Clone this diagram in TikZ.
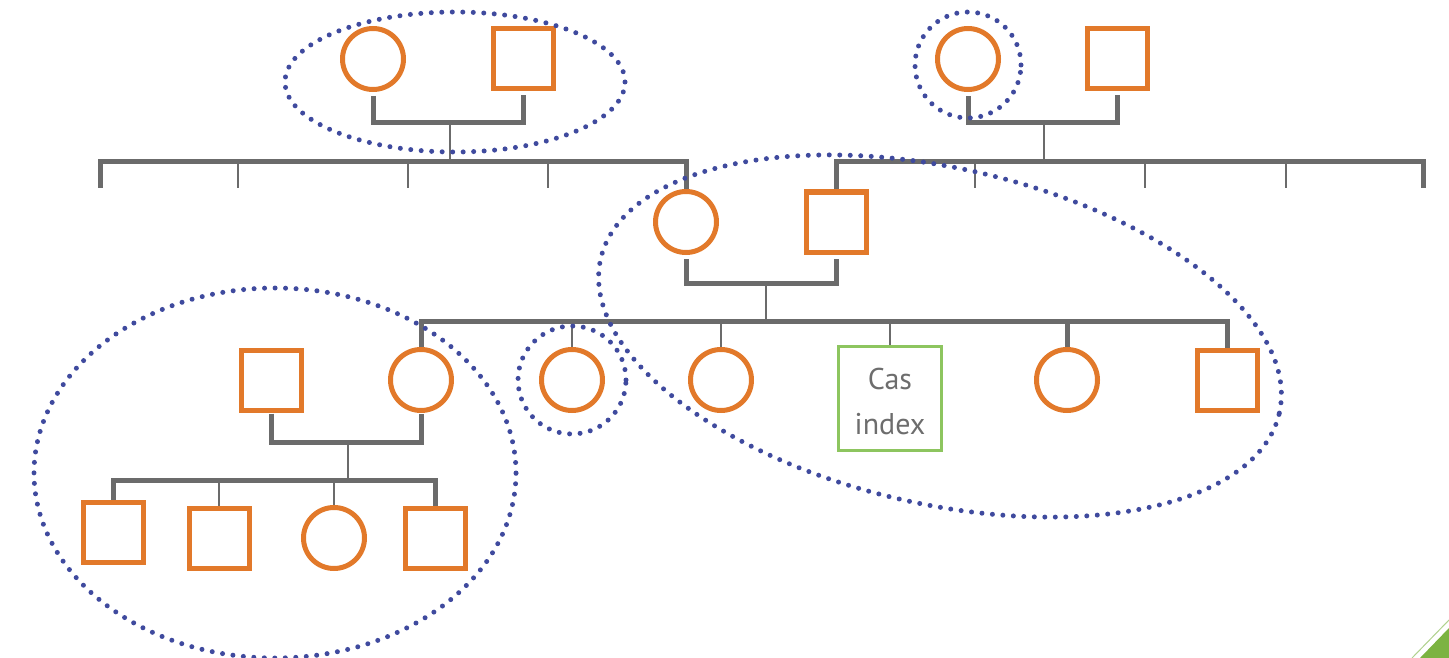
\documentclass[tikz,border=0pt]{standalone}
\usepackage{fontspec}
\setmainfont{PT Sans}
\definecolor{ped}{HTML}{E2792A}
\definecolor{kinline}{HTML}{6B6B6B}
\definecolor{grp}{HTML}{3F4A9E}
\definecolor{idx}{HTML}{8DC55F}
\definecolor{corner}{HTML}{7CB342}
\definecolor{txt}{HTML}{6D6D6D}
\begin{document}
\begin{tikzpicture}[x=1pt,y=-1pt,
  female/.style={circle,draw=ped,line width=5pt,minimum size=61pt,inner sep=0pt},
  male/.style={rectangle,draw=ped,line width=5pt,minimum size=60pt,inner sep=0pt},
  proband/.style={rectangle,draw=idx,line width=3pt,minimum width=103pt,minimum height=104pt,
    inner sep=0pt,align=center,text=txt,font=\fontsize{30}{45}\selectfont},
  kin/.style={draw=kinline,line width=5pt,line join=miter},
  sib/.style={draw=kinline,line width=2.5pt},
  grp/.style={draw=grp,line width=5pt,dash pattern=on 0pt off 10.5pt,line cap=round}]

\useasboundingbox (0,0) rectangle (1449,658);

% generation I
\node[female] (g1f) at (373,59) {};
\node[male]   (g1m) at (523,59) {};
\node[female] (g2f) at (968,59) {};
\node[male]   (g2m) at (1117,59) {};
% generation II
\node[female] (mo) at (686,222) {};
\node[male]   (fa) at (836,222) {};
% generation III
\node[male]    (s1) at (271,380) {};
\node[female]  (d1) at (421,380) {};
\node[female]  (d2) at (572,380) {};
\node[female]  (d3) at (721,380) {};
\node[proband] (ix) at (890,398.5) {\rule{0pt}{27pt}Cas\\index};
\node[female]  (d4) at (1067,380) {};
\node[male]    (s2) at (1227,380) {};
% generation IV
\node[male]   (k1) at (113,532) {};
\node[male]   (k2) at (219,538) {};
\node[female] (k3) at (334,538) {};
\node[male]   (k4) at (435,538) {};

% couple and sibship lines, left grandparents
\coordinate (c1) at (450,123);
\coordinate (b1) at (450,162);
\coordinate (b1L) at (100,188);
\draw[kin] ([yshift=-4pt]g1f.south) -- (g1f |- c1) -- (g1m |- c1) -- ([yshift=-4pt]g1m.south);
\draw[sib] (c1) -- (b1);
\draw[kin] (b1L) -- (b1L |- b1) -- (mo |- b1) -- (mo.north);
\foreach \x [count=\i] in {238,408,548} {
  \coordinate (t1\i) at (\x,162);
  \coordinate (e1\i) at (\x,188);
  \draw[sib] (t1\i) -- (e1\i);
}

% couple and sibship lines, right grandparents
\coordinate (c2) at (1044,123);
\coordinate (b2) at (1044,162);
\coordinate (b2R) at (1423,188);
\draw[kin] ([yshift=-4pt]g2f.south) -- (g2f |- c2) -- (g2m |- c2) -- ([yshift=-4pt]g2m.south);
\draw[sib] (c2) -- (b2);
\draw[kin] (fa.north) -- (fa |- b2) -- (b2R |- b2) -- (b2R);
\foreach \x [count=\i] in {975,1145,1286} {
  \coordinate (t2\i) at (\x,162);
  \coordinate (e2\i) at (\x,188);
  \draw[sib] (t2\i) -- (e2\i);
}

% parents of the index case
\coordinate (c3) at (766,283);
\coordinate (b3) at (766,321);
\draw[kin] ([yshift=-4pt]mo.south) -- (mo |- c3) -- (fa |- c3) -- ([yshift=-4pt]fa.south);
\draw[sib] (c3) -- (b3);
\draw[kin] (d1.north) -- (d1 |- b3) -- (s2 |- b3) -- (s2.north);
\draw[kin] (d4 |- b3) -- (d4.north);
\draw[sib] (d2 |- b3) -- (d2.north);
\draw[sib] (d3 |- b3) -- (d3.north);
\draw[sib] (ix |- b3) -- (ix.north);

% sister's family
\coordinate (c4) at (348,442);
\coordinate (b4) at (348,480);
\draw[kin] ([yshift=-1pt]s1.south) -- (s1 |- c4) -- (d1 |- c4) -- ([yshift=-1pt]d1.south);
\draw[sib] (c4) -- (b4);
\draw[kin] (k1.north) -- (k1 |- b4) -- (k4 |- b4) -- (k4.north);
\draw[sib] (k2 |- b4) -- (k2.north);
\draw[sib] (k3 |- b4) -- (k3.north);

% dotted groupings
\draw[grp] (455,82) ellipse [x radius=170pt, y radius=70pt];
\draw[grp] (968,65) circle [radius=53pt];
\draw[grp, rotate around={-12.8:(940,336)}] (940,336) ellipse [x radius=348pt, y radius=168pt];
\draw[grp] (275,473) ellipse [x radius=241pt, y radius=185pt];
\draw[grp] (572,380) circle [radius=54pt];

% corner accent
\fill[corner] (1420,658) -- (1449,628) -- (1449,658) -- cycle;
\draw[corner!60, line width=1pt] (1412,658) -- (1449,620);
\end{tikzpicture}
\end{document}
